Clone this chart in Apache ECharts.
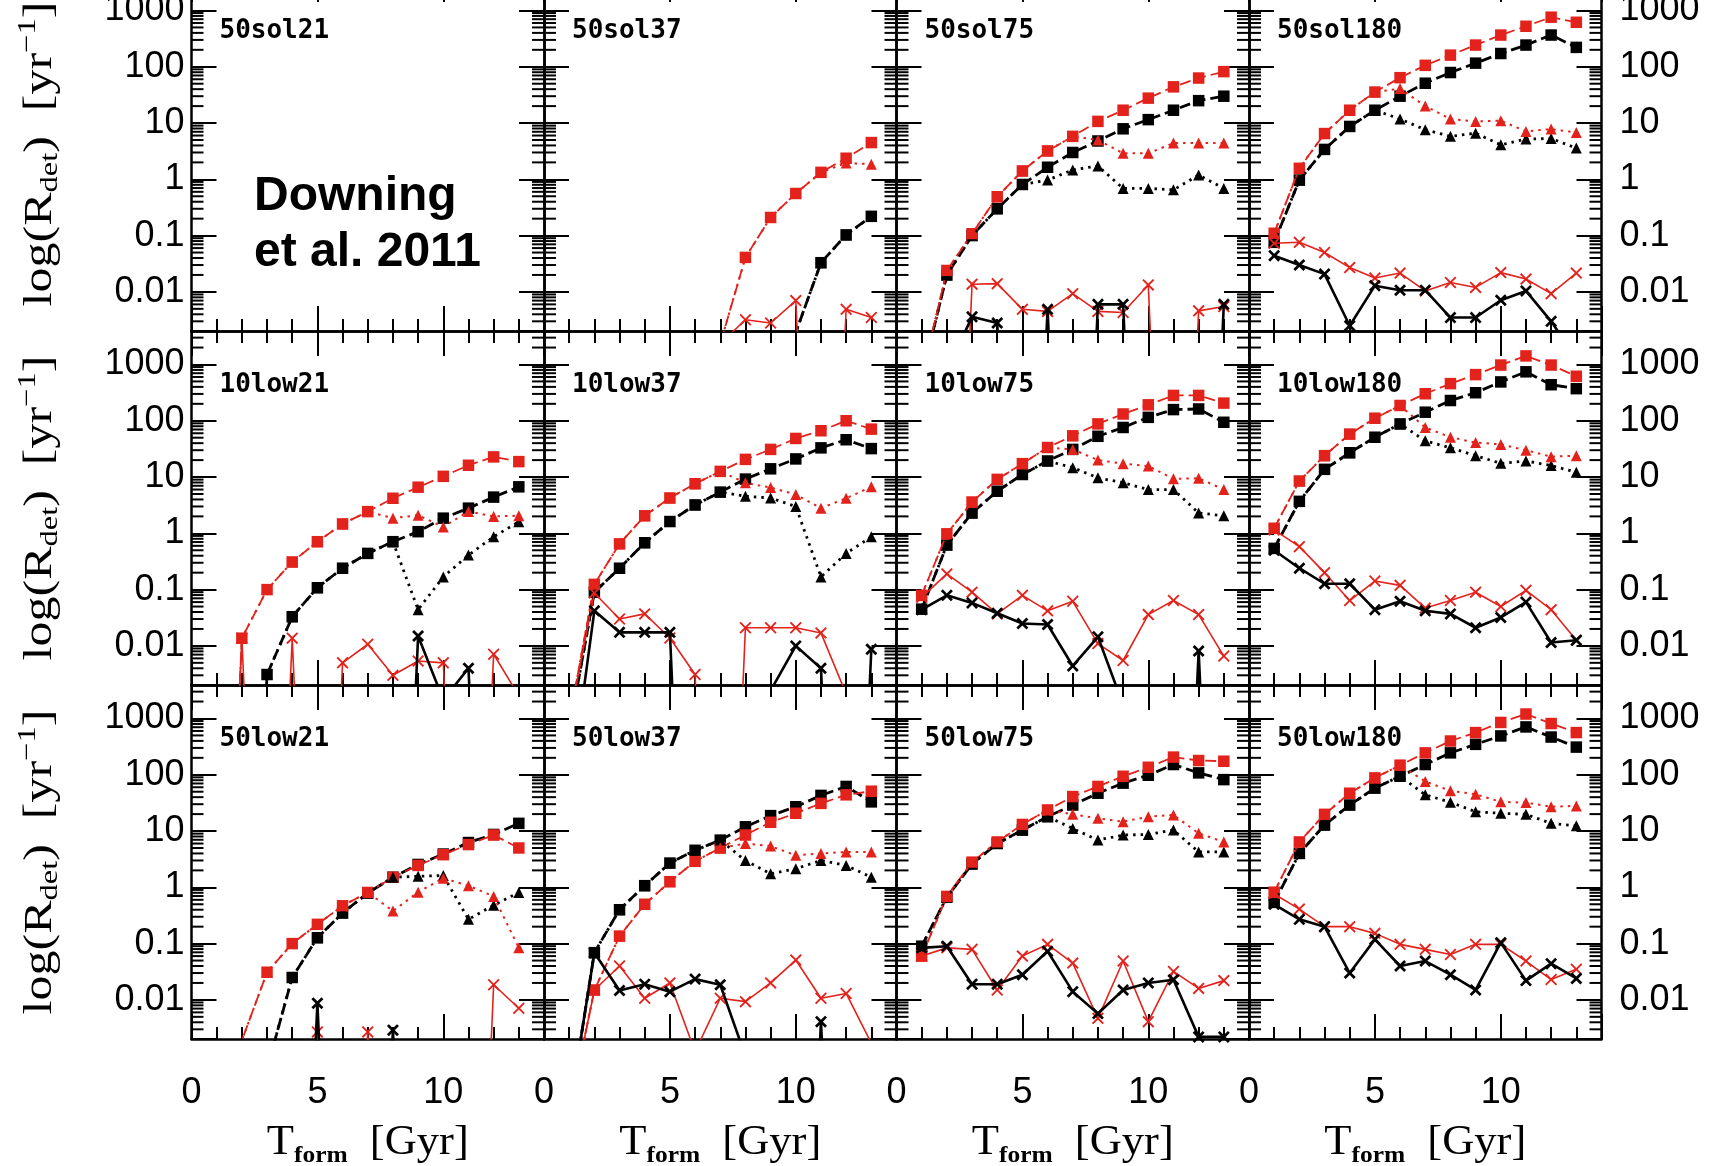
<!DOCTYPE html>
<html>
<head>
<meta charset="utf-8">
<title>Detection rates vs formation time</title>
<script src="https://cdn.jsdelivr.net/npm/echarts@6/dist/echarts.min.js"></script>
<style>
  html, body { margin: 0; padding: 0; background: #fff; }
  #chart { width: 1719px; height: 1166px; }
</style>
</head>
<body>
<div id="chart"></div>
<script>
// ---------------------------------------------------------------------------
// Data
// ---------------------------------------------------------------------------
const T_FORM = [1, 2, 3, 4, 5, 6, 7, 8, 9, 10, 11, 12, 13];   // Gyr

const PANEL_NAMES = [
  '50sol21', '50sol37', '50sol75', '50sol180',
  '10low21', '10low37', '10low75', '10low180',
  '50low21', '50low37', '50low75', '50low180'
];

const Y_TICK_VALUES = [0.01, 0.1, 1, 10, 100, 1000];
const X_TICK_VALUES = [0, 5, 10];
const MINOR_STEPS = [2, 3, 4, 5, 6, 7, 8, 9];
const DECADES = [-3, -2, -1, 0, 1, 2, 3];

// Rates [1/yr] for each cluster model, one row per curve, in this order:
// red squares, black squares, red triangles, black triangles, red crosses, black crosses.
// A 0 means no detection (drawn off the bottom of the log axis).
const r50sol21 = [[], [], [], [], [], []];
const r50sol37 = [
  [0, 0, 0, 0, 0, 0, 0.0012, 0.041, 0.21, 0.56, 1.33, 2.37, 4.5],
  [0, 0, 0, 0, 0, 0, 0, 0, 0, 0.0019, 0.033, 0.103, 0.22],
  [0, 0, 0, 0, 0, 0, 0.0012, 0.041, 0.21, 0.56, 1.33, 1.95, 1.86],
  [0, 0, 0, 0, 0, 0, 0, 0, 0, 0.0019, 0.033, 0.103, 0.22],
  [0, 0, 0, 0, 0, 0, 0.0012, 0.0032, 0.0028, 0.007, 0, 0.0049, 0.0035],
  [0, 0, 0, 0, 0, 0, 0, 0, 0, 0.0019, 0, 0, 0]
];
const r50sol75 = [
  [0.0003, 0.024, 0.108, 0.49, 1.41, 3.2, 5.8, 10.7, 16.9, 27.7, 44, 63, 82],
  [0.0003, 0.02, 0.1, 0.3, 0.81, 1.64, 3.0, 4.8, 7.9, 11.5, 16.9, 25, 30],
  [0.0003, 0.024, 0.108, 0.49, 1.41, 3.2, 5.8, 5.0, 2.9, 2.9, 4.4, 4.4, 4.4],
  [0.0003, 0.02, 0.1, 0.3, 0.81, 0.97, 1.47, 1.73, 0.69, 0.69, 0.65, 1.19, 0.69],
  [0, 0, 0.0137, 0.014, 0.0049, 0.0045, 0.0093, 0.0045, 0.0043, 0.0133, 0, 0.0046, 0.0055],
  [0, 0.0004, 0.0036, 0.0028, 0, 0.0049, 0, 0.006, 0.006, 0, 0, 0, 0.006]
];
const r50sol180 = [
  [0.11, 1.57, 6.5, 16.9, 35.5, 64, 106, 161, 243, 366, 524, 760, 617],
  [0.076, 0.97, 3.4, 8.7, 16.9, 30, 51, 79, 116, 172, 243, 366, 221],
  [0.11, 1.57, 6.5, 16.9, 35.5, 41, 20, 11.8, 10.7, 11, 7.1, 7.8, 6.8],
  [0.076, 0.97, 3.4, 8.7, 16.9, 11.8, 7.6, 5.8, 6.6, 4.1, 5.2, 5.3, 3.6],
  [0.073, 0.076, 0.05, 0.027, 0.0176, 0.0216, 0.0104, 0.0147, 0.012, 0.022, 0.0169, 0.0093, 0.0216],
  [0.044, 0.030, 0.0207, 0.0025, 0.0129, 0.0107, 0.0107, 0.0035, 0.0035, 0.0071, 0.0104, 0.003, 0.00066]
];
const r10low21 = [
  [0, 0.0137, 0.1, 0.31, 0.71, 1.47, 2.43, 4.2, 6.6, 10.3, 16.2, 22.8, 18.8],
  [0, 0, 0.0031, 0.033, 0.108, 0.24, 0.44, 0.71, 1.07, 1.86, 2.8, 4.4, 6.7],
  [0, 0.0137, 0.1, 0.31, 0.71, 1.47, 2.43, 1.86, 2.1, 1.3, 2.45, 2.0, 2.05],
  [0, 0, 0.0031, 0.033, 0.108, 0.24, 0.44, 0.71, 0.044, 0.168, 0.41, 0.87, 1.6],
  [0, 0.0137, 0, 0.0137, 0, 0.005, 0.0107, 0.003, 0.0054, 0.005, 0, 0.0071, 0.0013],
  [0, 0, 0, 0, 0, 0, 0, 0, 0.015, 0.0011, 0.004, 0, 0]
];
const r10low37 = [
  [0.00046, 0.124, 0.65, 2.05, 4.25, 7.6, 12.6, 20.6, 31, 48.5, 66.5, 100, 71],
  [0.0003, 0.09, 0.24, 0.68, 1.62, 3.2, 5.4, 9.2, 14, 21, 33, 46, 32],
  [0.00046, 0.124, 0.65, 2.05, 4.25, 7.6, 12.6, 7.9, 6.5, 4.9, 2.8, 4.2, 6.7],
  [0.0003, 0.09, 0.24, 0.68, 1.62, 3.2, 5.4, 4.55, 4.25, 3.0, 0.168, 0.44, 0.87],
  [0.00046, 0.087, 0.03, 0.037, 0.0138, 0.0031, 0, 0.021, 0.021, 0.021, 0.017, 0.0014, 0],
  [0.00002, 0.042, 0.0174, 0.0174, 0.0174, 0, 0, 0, 0.0016, 0.01, 0.004, 0, 0.0087]
];
const r10low75 = [
  [0.079, 0.98, 3.6, 9.1, 17.3, 33.5, 54, 88, 132, 192, 282, 282, 206],
  [0.045, 0.62, 2.3, 5.6, 11.1, 19.3, 31, 53, 76, 115, 158, 162, 94],
  [0.079, 0.98, 3.6, 9.1, 17.3, 33.5, 31, 20, 17.3, 15.7, 9.3, 9.5, 6.0],
  [0.045, 0.62, 2.3, 5.6, 11.1, 19.3, 14.7, 9.7, 7.9, 6.0, 6.0, 2.3, 2.05],
  [0.073, 0.19, 0.09, 0.037, 0.079, 0.042, 0.062, 0.011, 0.0055, 0.036, 0.064, 0.036, 0.0066],
  [0.044, 0.079, 0.058, 0.038, 0.025, 0.024, 0.0044, 0.0145, 0.0009, 0, 0, 0.0081, 0]
];
const r10low180 = [
  [1.23, 8.5, 24, 58, 111, 187, 302, 457, 661, 977, 1420, 977, 618],
  [0.54, 3.7, 13.7, 27, 51, 88, 142, 229, 315, 490, 741, 437, 372],
  [1.23, 8.5, 24, 58, 111, 187, 76, 51, 41, 38, 30, 23, 24],
  [0.54, 3.7, 13.7, 27, 51, 88, 44, 33, 24, 17.5, 19.3, 16, 12.2],
  [1.15, 0.58, 0.2, 0.064, 0.142, 0.119, 0.047, 0.064, 0.09, 0.05, 0.097, 0.044, 0.0126],
  [0.5, 0.24, 0.127, 0.127, 0.044, 0.062, 0.042, 0.037, 0.021, 0.032, 0.06, 0.0115, 0.0126]
];
const r50low21 = [
  [0, 0.0019, 0.031, 0.1, 0.22, 0.47, 0.81, 1.51, 2.45, 3.8, 5.75, 8.5, 5.0],
  [0, 0, 0.0006, 0.025, 0.127, 0.35, 0.79, 1.51, 2.55, 3.9, 6.25, 8.7, 13.7],
  [0, 0.0019, 0.031, 0.1, 0.22, 0.47, 0.81, 0.38, 0.82, 1.45, 1.07, 0.69, 0.084],
  [0, 0, 0.0006, 0.025, 0.127, 0.35, 0.79, 1.51, 1.57, 1.62, 0.27, 0.48, 0.81],
  [0, 0, 0, 0, 0.0027, 0, 0.0027, 0, 0, 0, 0, 0.0186, 0.0071],
  [0, 0, 0, 0, 0.0087, 0, 0, 0.0029, 0, 0, 0, 0, 0]
];
const r50low37 = [
  [0.0001, 0.015, 0.136, 0.5, 1.26, 2.9, 5.0, 8.5, 14.3, 20.7, 31, 44, 51],
  [0.0001, 0.069, 0.4, 1.07, 2.7, 4.55, 6.9, 11.9, 18.8, 27, 43, 62, 33],
  [0.0001, 0.015, 0.136, 0.5, 1.26, 2.9, 5.0, 6.0, 5.4, 3.7, 4.0, 4.25, 4.25],
  [0.0001, 0.069, 0.4, 1.07, 2.7, 4.55, 6.9, 3.0, 1.74, 2.14, 3.0, 2.45, 1.51],
  [0.0001, 0.015, 0.04, 0.0107, 0.02, 0.0012, 0.0107, 0.0093, 0.02, 0.051, 0.0107, 0.013, 0.0017],
  [0.0001, 0.069, 0.0147, 0.019, 0.014, 0.0234, 0.0186, 0.001, 0, 0, 0.0041, 0, 0]
];
const r50low75 = [
  [0.06, 0.69, 2.8, 6.4, 13.1, 23.7, 41, 62, 94, 136, 206, 179, 174],
  [0.09, 0.67, 2.6, 6.0, 10.4, 18, 29, 47, 71, 98, 152, 108, 82],
  [0.06, 0.69, 2.8, 6.4, 13.1, 23.7, 19.8, 16.8, 14.7, 18, 19.3, 9.1, 6.4],
  [0.09, 0.67, 2.6, 6.0, 10.4, 18, 11.1, 6.9, 8.5, 8.7, 10.4, 4.25, 4.25],
  [0.06, 0.084, 0.079, 0.015, 0.06, 0.097, 0.045, 0.0047, 0.049, 0.0041, 0.032, 0.016, 0.022],
  [0.084, 0.09, 0.019, 0.019, 0.028, 0.073, 0.014, 0.0057, 0.015, 0.02, 0.0228, 0.0022, 0.0022]
];
const r50low180 = [
  [0.82, 6.4, 19.8, 47, 88, 148, 245, 398, 562, 850, 1200, 813, 562],
  [0.54, 4.0, 12.8, 29, 58, 94, 152, 245, 347, 490, 708, 468, 310],
  [0.82, 6.4, 19.8, 47, 88, 148, 76, 52, 45, 33, 32, 27, 28],
  [0.54, 4.0, 12.8, 29, 58, 94, 44, 32.5, 22, 20.7, 19.8, 13.7, 12.4],
  [0.76, 0.41, 0.2, 0.2, 0.152, 0.097, 0.079, 0.064, 0.097, 0.097, 0.049, 0.023, 0.035],
  [0.5, 0.27, 0.2, 0.03, 0.119, 0.04, 0.049, 0.028, 0.015, 0.104, 0.022, 0.044, 0.024]
];

const PANELS = [
  r50sol21, r50sol37, r50sol75, r50sol180,
  r10low21, r10low37, r10low75, r10low180,
  r50low21, r50low37, r50low75, r50low180
];

// ---------------------------------------------------------------------------
// Layout and style
// ---------------------------------------------------------------------------
const LAYOUT = { left: 191.5, top: -23, cellW: 352.5, cellH: 354, cols: 4, rows: 3 };
const X_RANGE = [0, 14];
const Y_RANGE = [Math.pow(10, -2.695), Math.pow(10, 3.595)];
const NO_DETECTION = 1e-12;

const RED = '#e3221c';
const BLACK = '#000000';
const AXIS_COLOR = '#000000';

function crossPath(a) {
  // X-shaped outline inside a 10x10 box, arms of half-width a
  const lo = a, hi = 10 - a;
  return 'path://M' + lo + ',0 L5,' + (5 - a) + ' L' + hi + ',0 L10,' + lo + ' L' + (5 + a) + ',5 L10,' + hi +
         ' L' + hi + ',10 L5,' + (5 + a) + ' L' + lo + ',10 L0,' + hi + ' L' + (5 - a) + ',5 L0,' + lo + ' Z';
}

// drawing order; "row" picks the curve inside a panel table
const CURVES = [
  { row: 1, color: BLACK, symbol: 'rect',          size: 11.5, width: 2.8, dash: [11, 5] },
  { row: 0, color: RED,   symbol: 'rect',          size: 11.5, width: 1.8, dash: [11, 5] },
  { row: 3, color: BLACK, symbol: 'triangle',      size: 11,   width: 2.8, dash: [2.5, 5] },
  { row: 2, color: RED,   symbol: 'triangle',      size: 11,   width: 2.0, dash: [2.5, 5] },
  { row: 4, color: RED,   symbol: crossPath(1.1),  size: 12,   width: 1.6, dash: 'solid' },
  { row: 5, color: BLACK, symbol: crossPath(1.6),  size: 12,   width: 2.6, dash: 'solid' }
];

const TICK_FONT = 'Liberation Sans';
const TICK_SIZE = 36;

const minorTickValues = [];
DECADES.forEach(function (d) {
  MINOR_STEPS.forEach(function (k) {
    const v = k * Math.pow(10, d);
    if (v > Y_RANGE[0] && v < Y_RANGE[1]) minorTickValues.push(v);
  });
});

function matchYTick(v) {
  return Y_TICK_VALUES.find(function (t) { return Math.abs(Math.log10(v) - Math.log10(t)) < 1e-6; });
}

function makeXAxis(gi, position, showLabels) {
  return {
    type: 'value', gridIndex: gi, position: position,
    min: X_RANGE[0], max: X_RANGE[1], interval: 5,
    axisLine: { show: true, onZero: false, lineStyle: { color: AXIS_COLOR, width: 2.5 } },
    axisTick: { show: true, inside: true, length: 25, lineStyle: { color: AXIS_COLOR, width: 2 } },
    minorTick: { show: true, splitNumber: 5, length: 12, lineStyle: { color: AXIS_COLOR, width: 2 } },
    splitLine: { show: false }, minorSplitLine: { show: false },
    axisLabel: {
      show: showLabels, margin: 36, color: '#000', fontFamily: TICK_FONT, fontSize: TICK_SIZE,
      formatter: function (v) { return X_TICK_VALUES.indexOf(v) >= 0 ? String(v) : ''; }
    }
  };
}

function makeYAxis(gi, position, showLabels) {
  return {
    type: 'log', logBase: 10, gridIndex: gi, position: position,
    min: Y_RANGE[0], max: Y_RANGE[1],
    axisLine: { show: true, onZero: false, lineStyle: { color: AXIS_COLOR, width: 2.5 } },
    axisTick: { show: true, inside: true, length: 25, lineStyle: { color: AXIS_COLOR, width: 2 } },
    minorTick: { show: false },
    splitLine: { show: false },
    axisLabel: {
      show: showLabels, margin: position === 'left' ? 7 : 18, color: '#000',
      fontFamily: TICK_FONT, fontSize: TICK_SIZE,
      formatter: function (v) { const t = matchYTick(v); return t === undefined ? '' : String(t); }
    }
  };
}

// text made of pieces with sub/superscripts
const measureCtx = document.createElement('canvas').getContext('2d');
function textWidth(str, font) { measureCtx.font = font; return measureCtx.measureText(str).width; }
function composedLabel(parts, cx, cy, rotation, stretch) {
  const fonts = parts.map(function (p) {
    return (p.weight || 'normal') + ' ' + p.size + 'px "' + p.family + '"';
  });
  const widths = parts.map(function (p, i) { return textWidth(p.text, fonts[i]); });
  const total = widths.reduce(function (a, b) { return a + b; }, 0);
  let x = -total / 2;
  const children = parts.map(function (p, i) {
    const el = {
      type: 'text', x: x, y: p.dy || 0,
      style: { text: p.text, font: fonts[i], fill: '#000', align: 'left', verticalAlign: 'middle' }
    };
    x += widths[i];
    return el;
  });
  return { type: 'group', x: cx, y: cy, rotation: rotation || 0,
           scaleX: stretch || 1, scaleY: 1, children: children, z: 20 };
}

// ---------------------------------------------------------------------------
// Build option
// ---------------------------------------------------------------------------
const grids = [], xAxes = [], yAxes = [], series = [], graphics = [];

PANELS.forEach(function (table, gi) {
  const r = Math.floor(gi / LAYOUT.cols), c = gi % LAYOUT.cols;
  const left = LAYOUT.left + c * LAYOUT.cellW;
  const top = LAYOUT.top + r * LAYOUT.cellH;
  grids.push({ left: left, top: top, width: LAYOUT.cellW, height: LAYOUT.cellH,
               containLabel: false, outerBoundsMode: 'none', show: false });
  xAxes.push(makeXAxis(gi, 'bottom', r === LAYOUT.rows - 1), makeXAxis(gi, 'top', false));
  yAxes.push(makeYAxis(gi, 'left', c === 0), makeYAxis(gi, 'right', c === LAYOUT.cols - 1));

  CURVES.forEach(function (cv, k) {
    const values = table[cv.row];
    series.push({
      type: 'line', xAxisIndex: 2 * gi, yAxisIndex: 2 * gi,
      data: values.map(function (v, i) { return [T_FORM[i], v > 0 ? v : NO_DETECTION]; }),
      symbol: cv.symbol, symbolSize: cv.size, showSymbol: true, symbolKeepAspect: true,
      itemStyle: { color: cv.color, borderWidth: 0 },
      lineStyle: { color: cv.color, width: cv.width, type: cv.dash, cap: 'butt' },
      clip: true, silent: true, animation: false, z: 3 + k
    });
  });

  // logarithmic minor ticks on the left and right frame of each panel
  series.push({
    type: 'custom', xAxisIndex: 2 * gi, yAxisIndex: 2 * gi,
    data: minorTickValues.map(function (v) { return [X_RANGE[0], v]; }),
    renderItem: function (params, api) {
      const v = api.value(1);
      const a = api.coord([X_RANGE[0], v]);
      const b = api.coord([X_RANGE[1], v]);
      const st = { stroke: AXIS_COLOR, lineWidth: 2 };
      return { type: 'group', children: [
        { type: 'line', shape: { x1: a[0], y1: a[1], x2: a[0] + 12, y2: a[1] }, style: st },
        { type: 'line', shape: { x1: b[0] - 12, y1: b[1], x2: b[0], y2: b[1] }, style: st }
      ] };
    },
    silent: true, animation: false, z: 2
  });

  graphics.push({
    type: 'text', x: left + 28, y: top + 54, z: 20,
    style: { text: PANEL_NAMES[gi], font: 'bold 26px "DejaVu Sans Mono"', fill: '#000',
             align: 'left', verticalAlign: 'middle' }
  });
});

// axis titles
for (let r = 0; r < LAYOUT.rows; r++) {
  const cy = LAYOUT.top + r * LAYOUT.cellH + LAYOUT.cellH / 2;
  graphics.push(composedLabel([
    { text: 'log(R', size: 40, family: 'Liberation Serif' },
    { text: 'det', size: 26, family: 'Liberation Serif', dy: 10 },
    { text: ')  [yr', size: 40, family: 'Liberation Serif' },
    { text: '\u22121', size: 26, family: 'Liberation Serif', dy: -12 },
    { text: ']', size: 40, family: 'Liberation Serif' }
  ], 40, cy, Math.PI / 2, 1.25));
}
for (let c = 0; c < LAYOUT.cols; c++) {
  const cx = LAYOUT.left + c * LAYOUT.cellW + LAYOUT.cellW / 2;
  graphics.push(composedLabel([
    { text: 'T', size: 42, family: 'Liberation Serif' },
    { text: 'form', size: 24, family: 'Liberation Serif', weight: 'bold', dy: 13 },
    { text: '  [Gyr]', size: 42, family: 'Liberation Serif' }
  ], cx, 1143, 0, 1.06));
}

// citation
graphics.push({
  type: 'text', x: 254, y: 197, z: 20,
  style: { text: 'Downing', font: 'bold 48px "Liberation Sans"', fill: '#000', align: 'left', verticalAlign: 'middle' }
});
graphics.push({
  type: 'text', x: 254, y: 253, z: 20,
  style: { text: 'et al. 2011', font: 'bold 48px "Liberation Sans"', fill: '#000', align: 'left', verticalAlign: 'middle' }
});

const chart = echarts.init(document.getElementById('chart'), null, { renderer: 'canvas', width: 1719, height: 1166 });
chart.setOption({
  backgroundColor: '#ffffff',
  animation: false,
  textStyle: { fontFamily: TICK_FONT },
  grid: grids,
  xAxis: xAxes,
  yAxis: yAxes,
  series: series,
  graphic: { elements: graphics }
});
</script>
</body>
</html>
